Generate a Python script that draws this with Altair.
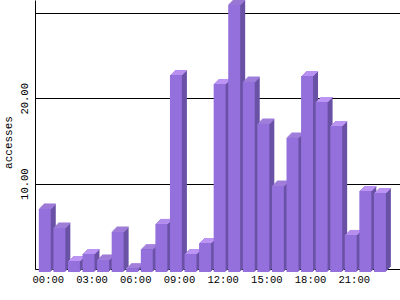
import json
import altair as alt
import pandas as pd

# ---- data ----
hours = ["00:00", "01:00", "02:00", "03:00", "04:00", "05:00", "06:00", "07:00",
         "08:00", "09:00", "10:00", "11:00", "12:00", "13:00", "14:00", "15:00",
         "16:00", "17:00", "18:00", "19:00", "20:00", "21:00", "22:00", "23:00"]
accesses = [7.42, 5.19, 1.29, 2.11, 1.44, 4.72, 0.43, 2.66, 5.63, 23.09, 2.11, 3.40,
            22.03, 31.33, 22.30, 17.38, 10.11, 15.74, 22.97, 19.92, 17.11, 4.34, 9.49, 9.26]
label_hours = [0, 3, 6, 9, 12, 15, 18, 21]
y_ticks = [10, 20, 30]

df = pd.DataFrame({"h": list(range(len(hours))), "hour": hours, "v": accesses})

FONT = "Liberation Mono"
FRONT = "#9370DB"
CAP = "#BC94F4"
SIDE = "#6A52A6"
DEPTH = 5
S = 3  # front face drops slightly below baseline

label_expr = json.dumps(hours) + "[datum.value]"

X = alt.X(
    "xa:Q",
    scale=alt.Scale(domain=[-0.673, 24.38], nice=False, zero=False),
    axis=alt.Axis(
        values=label_hours, labelExpr=label_expr, title=None, grid=False,
        ticks=False, tickSize=0, labelOffset=3, labelPadding=5,
        labelFont=FONT, labelFontSize=10.5, labelColor="black", labelAngle=0,
        domainColor="black", domainWidth=1, labelFlush=False,
    ),
)
Y = alt.Y(
    "v:Q",
    scale=alt.Scale(domain=[0, 31.52], nice=False, zero=True),
    axis=alt.Axis(
        values=y_ticks,
        labelExpr="datum.value >= 30 ? '' : format(datum.value, '.2f')",
        title="accesses", grid=True,
        gridColor="black", gridOpacity=1, gridWidth=1,
        ticks=False, tickSize=0, labelAngle=-90, labelAlign="center",
        labelBaseline="bottom", labelPadding=6, labelFont=FONT,
        labelFontSize=10.5, labelColor="black", domainColor="black",
        domainWidth=1, titleFont=FONT, titleFontSize=11,
        titleFontWeight="normal", titleColor="black", titleAngle=270,
        titleAlign="center", titleBaseline="bottom", titleX=-22, titleY=142,
    ),
)


def rect(color, shift, top_only=False):
    if top_only:
        y2 = alt.Y2("v:Q")
        yo, y2o = S - shift, S - shift + 1
    else:
        y2 = alt.datum(0)
        yo, y2o = S - shift, S - shift
    return alt.Chart().mark_rect(
        color=color, xOffset=shift, x2Offset=shift, yOffset=yo, y2Offset=y2o,
        strokeWidth=0,
    ).encode(x=X, x2=alt.X2("xb:Q"), y=Y, y2=y2)


layers = []
for sh in range(DEPTH, 0, -1):
    layers.append(rect(SIDE, sh))
    layers.append(rect(CAP, sh, top_only=True))
layers.append(rect(FRONT, 0))

chart = (
    alt.layer(*layers, data=df)
    .transform_calculate(xa="datum.h - 0.41", xb="datum.h + 0.41")
    .properties(
        width=365, height=269, autosize="none",
        padding={"left": 35, "top": 0, "right": 0, "bottom": 31},
        background="white",
    )
    .configure_view(strokeWidth=0)
)

chart.save("out.html", embed_options={"renderer": "svg", "actions": False})
